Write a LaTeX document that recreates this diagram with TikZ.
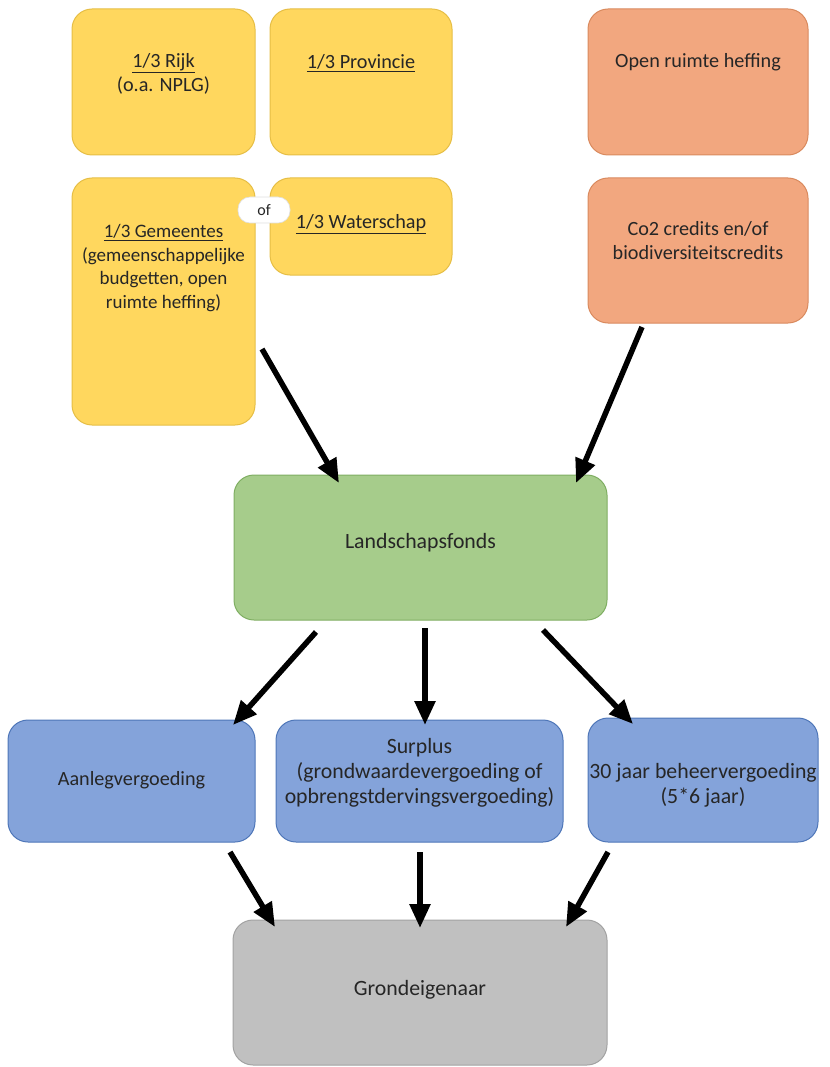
\documentclass[tikz,border=0pt]{standalone}
\usepackage{fontspec}
\setmainfont{Carlito}
\usetikzlibrary{arrows.meta}
\definecolor{yel}{HTML}{FFD75E}
\definecolor{yelb}{HTML}{E6BE45}
\definecolor{ora}{HTML}{F2A77F}
\definecolor{orab}{HTML}{D98A5E}
\definecolor{gre}{HTML}{A6CC8B}
\definecolor{greb}{HTML}{7FAE62}
\definecolor{blu}{HTML}{84A3DA}
\definecolor{blub}{HTML}{4E76B8}
\definecolor{gry}{HTML}{C0C0C0}
\definecolor{gryb}{HTML}{A2A2A2}
\definecolor{txtc}{HTML}{262626}
\tikzset{
  box/.style={rounded corners=20pt, line width=1pt, inner sep=0pt},
  yelbox/.style={box, fill=yel, draw=yelb},
  orabox/.style={box, fill=ora, draw=orab},
  grebox/.style={box, fill=gre, draw=greb},
  blubox/.style={box, fill=blu, draw=blub},
  grybox/.style={box, fill=gry, draw=gryb},
  txt/.style={align=center, text=txtc, font=\fontsize{20.2}{24}\selectfont, inner sep=0pt},
  txtb/.style={align=center, text=txtc, font=\fontsize{21.8}{25}\selectfont, inner sep=0pt},
  arr/.style={line width=5.5pt, -{Triangle[length=24pt,width=20pt]}, black}
}
\begin{document}
\begin{tikzpicture}[x=1pt,y=-1pt]
\useasboundingbox (0,0) rectangle (829,1067);
% top yellow boxes
\node[yelbox, minimum width=183pt, minimum height=146pt] (rijk) at (163.5,82) {};
\node[txt] (rijkt) at (163.5,74) {\underline{1/3 Rijk}\\(o.a. NPLG)};
\node[yelbox, minimum width=182pt, minimum height=146pt] (prov) at (361,82) {};
\node[txt, anchor=base] (provt) at (361,69) {\underline{1/3 Provincie}};
\node[yelbox, minimum width=183pt, minimum height=247pt] (gem) at (163.5,301.5) {};
\node[txt, font=\fontsize{19}{23.5}\selectfont] (gemt) at (163.5,268) {\underline{1/3 Gemeentes}\\(gemeenschappelijke\\budgetten, open\\ruimte heffing)};
\node[yelbox, minimum width=182pt, minimum height=97pt] (water) at (361,226.5) {};
\node[txt, anchor=base] (watert) at (361,229) {\underline{1/3 Waterschap}};
\node[rounded corners=12pt, fill=white, draw=gray!25, line width=0.6pt, minimum width=52pt, minimum height=26pt, inner sep=0pt, text=txtc, font=\fontsize{16}{18}\selectfont] (of) at (264,210) {of};
% orange boxes
\node[orabox, minimum width=220pt, minimum height=146pt] (open) at (698,82) {};
\node[txt, anchor=base] (opent) at (698,68) {Open ruimte heffing};
\node[orabox, minimum width=220pt, minimum height=145pt] (co2) at (698,250.5) {};
\node[txt] (co2t) at (698,241) {Co2 credits en/of\\biodiversiteitscredits};
% fund
\node[grebox, minimum width=373pt, minimum height=145pt] (land) at (420.5,547.5) {};
\node[txtb] (landt) at (420.5,543) {Landschapsfonds};
% blue boxes
\node[blubox, minimum width=247pt, minimum height=122pt] (aan) at (131.5,781) {};
\node[txt] (aant) at (131.5,780) {Aanlegvergoeding};
\node[blubox, minimum width=287pt, minimum height=122pt] (sur) at (419.5,781) {};
\node[txtb] (surt) at (419.5,773) {Surplus\\(grondwaardevergoeding of\\opbrengstdervingsvergoeding)};
\node[blubox, minimum width=230pt, minimum height=124pt] (dertig) at (703,780) {};
\node[txtb] (dertigt) at (703,785) {30 jaar beheervergoeding\\(5*6 jaar)};
% owner
\node[grybox, minimum width=374pt, minimum height=145pt] (grond) at (420,992.5) {};
\node[txtb] (grondt) at (420,990) {Grondeigenaar};
% arrow coordinates
\coordinate (gs) at (262,349); \coordinate (ge) at (339,483);
\coordinate (cs) at (642,327); \coordinate (ce) at (576,483);
\coordinate (l1s) at (316,632); \coordinate (l1e) at (233,725);
\coordinate (l2s) at (425,628); \coordinate (l2e) at (425,725);
\coordinate (l3s) at (543,630); \coordinate (l3e) at (633,724);
\coordinate (a1s) at (230,852); \coordinate (a1e) at (275,927);
\coordinate (a2s) at (420,852); \coordinate (a2e) at (420,928);
\coordinate (a3s) at (608,852); \coordinate (a3e) at (566,927);
\draw[arr] (gs) -- (ge);
\draw[arr] (cs) -- (ce);
\draw[arr] (l1s) -- (l1e);
\draw[arr] (l2s) -- (l2e);
\draw[arr] (l3s) -- (l3e);
\draw[arr] (a1s) -- (a1e);
\draw[arr] (a2s) -- (a2e);
\draw[arr] (a3s) -- (a3e);
\end{tikzpicture}
\end{document}
